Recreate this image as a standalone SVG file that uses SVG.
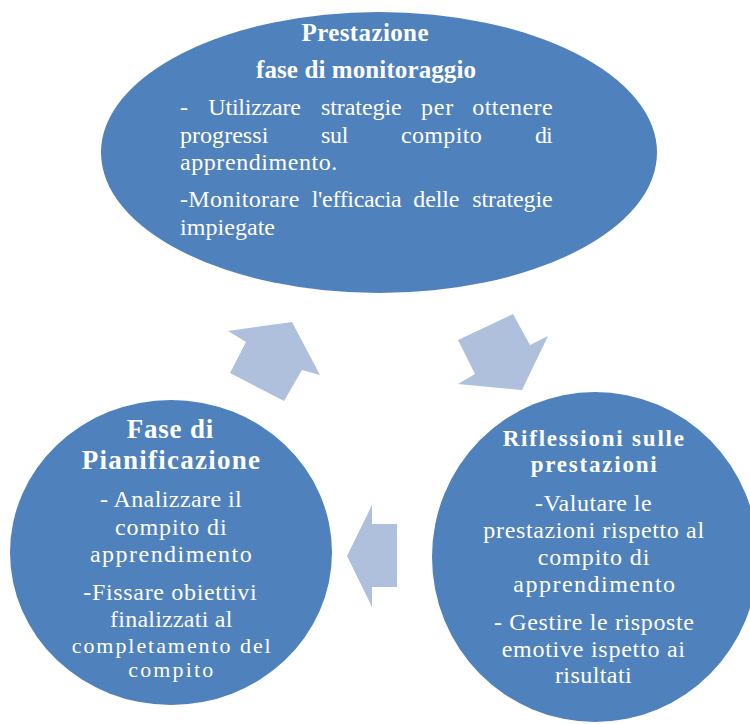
<svg xmlns="http://www.w3.org/2000/svg" width="750" height="724" viewBox="0 0 750 724">
<style>
.node{fill:#4F81BD;}
.arrow{fill:#AEC0DC;}
.t{font-family:"Liberation Serif","Times New Roman",serif;font-size:24px;fill:#FFFFFF;text-anchor:middle;}
.b{font-weight:bold;font-size:25px;}
.bl{font-size:27px;}
.br{font-size:23px;}
.l{text-anchor:start;}
.s{font-size:22px;}
</style>
<rect width="750" height="724" fill="#FFFFFF"/>
<g id="connectors">
<polygon id="arrow-plan-to-perf" class="arrow" points="228,331 292,322 320,375 302,370 284,401 230,373 246,342"/>
<polygon id="arrow-perf-to-refl" class="arrow" points="458,340 513,314 530,345 548,336 522,390 458,384 475,374"/>
<polygon id="arrow-refl-to-plan" class="arrow" points="372,505 347,556 372,607 372,587 397,587 397,524 372,524"/>
</g>
<g id="node-prestazione">
<ellipse class="node" cx="379" cy="152.5" rx="278" ry="140.5"/>
<text class="t b" x="365" y="40.5" textLength="127">Prestazione</text>
<text class="t b" x="366" y="77.5" textLength="220">fase di monitoraggio</text>
<text class="t l" y="115"><tspan x="180">-</tspan><tspan x="208.3" textLength="92.7">Utilizzare</tspan><tspan x="321" textLength="80.7">strategie</tspan><tspan x="421" textLength="32.3">per</tspan><tspan x="472.3" textLength="80.4">ottenere</tspan></text>
<text class="t l" y="142.7"><tspan x="180" textLength="88.3">progressi</tspan><tspan x="321" textLength="27.3">sul</tspan><tspan x="401" textLength="80.7">compito</tspan><tspan x="535" textLength="17.7">di</tspan></text>
<text class="t l" x="180" y="170" textLength="157.3">apprendimento.</text>
<text class="t l" y="206.7"><tspan x="180" textLength="119.3">-Monitorare</tspan><tspan x="311.7" textLength="90">l'efficacia</tspan><tspan x="413.3" textLength="46">delle</tspan><tspan x="472.3" textLength="80.4">strategie</tspan></text>
<text class="t l" x="180" y="235" textLength="95">impiegate</text>
</g>
<g id="node-pianificazione">
<ellipse class="node" cx="171" cy="552.5" rx="161" ry="152.5"/>
<text class="t b bl" x="170" y="438.3" textLength="86.6">Fase di</text>
<text class="t b bl" x="170.8" y="469" textLength="178.3">Pianificazione</text>
<text class="t" x="170.8" y="507.3" textLength="141.7">- Analizzare il</text>
<text class="t" x="170.8" y="535" textLength="111.7">compito di</text>
<text class="t" x="170.8" y="561.7" textLength="161.7">apprendimento</text>
<text class="t" x="170" y="600" textLength="173.4">-Fissare obiettivi</text>
<text class="t" x="171.2" y="626.7" textLength="122.3">finalizzati al</text>
<text class="t s" x="171.2" y="653.3" textLength="199">completamento del</text>
<text class="t s" x="170.8" y="677.3" textLength="85">compito</text>
</g>
<g id="node-riflessioni">
<ellipse class="node" cx="595" cy="557" rx="163" ry="165"/>
<text class="t b br" x="593.3" y="446" textLength="181.3">Riflessioni sulle</text>
<text class="t b br" x="593.7" y="471.7" textLength="126">prestazioni</text>
<text class="t" x="593.3" y="510.7" textLength="116.7">-Valutare le</text>
<text class="t" x="593.7" y="538.3" textLength="220.7">prestazioni rispetto al</text>
<text class="t" x="593.5" y="565" textLength="111.6">compito di</text>
<text class="t" x="594.2" y="591.7" textLength="161.7">apprendimento</text>
<text class="t" x="594" y="630" textLength="200">- Gestire le risposte</text>
<text class="t" x="593.3" y="656.7" textLength="183.3">emotive ispetto ai</text>
<text class="t" x="593.3" y="683.3" textLength="76.7">risultati</text>
</g>
</svg>
